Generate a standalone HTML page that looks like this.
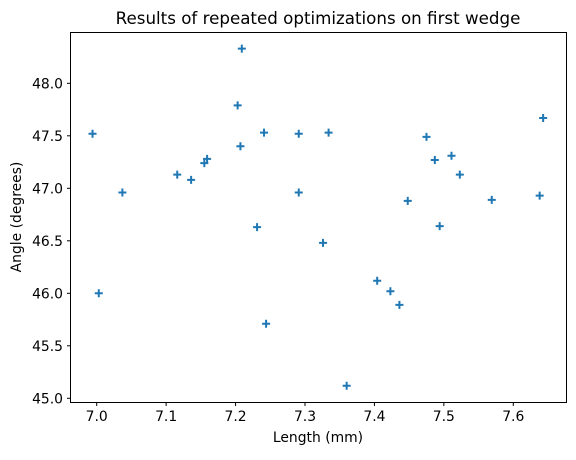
<!DOCTYPE html>
<html><head><meta charset="utf-8"><style>
body{margin:0;background:#fff;}
svg text{font-family:"DejaVu Sans","Liberation Sans",sans-serif;fill:#000;}
</style></head><body>
<svg id="chart" width="576" height="455">
<rect x="0" y="0" width="576" height="455" fill="#fff"/>
<text x="318" y="24" font-size="16.7" text-anchor="middle">Results of repeated optimizations on first wedge</text>
<g id="marks"></g>
<g id="xt"></g>
<g id="yt"></g>
<rect x="70.5" y="32.5" width="496" height="370" fill="none" stroke="#000" stroke-width="1"/>
<text x="318" y="442" font-size="13.9" text-anchor="middle">Length (mm)</text>
<text transform="translate(21,217) rotate(-90)" font-size="13.9" text-anchor="middle">Angle (degrees)</text>
</svg>
<script>
const lengths=[6.994,7.003,7.037,7.116,7.136,7.155,7.159,7.203,7.209,7.207,7.231,7.241,7.244,7.291,7.291,7.334,7.326,7.360,7.404,7.423,7.436,7.448,7.475,7.487,7.494,7.511,7.523,7.569,7.638,7.643];
const angles=[47.52,46.00,46.96,47.13,47.08,47.24,47.28,47.79,48.33,47.40,46.63,47.53,45.71,47.52,46.96,47.53,46.48,45.12,46.12,46.02,45.89,46.88,47.49,47.27,46.64,47.31,47.13,46.89,46.93,47.67];
const xTicks=[7.0,7.1,7.2,7.3,7.4,7.5,7.6];
const yTicks=[45.0,45.5,46.0,46.5,47.0,47.5,48.0];
const NS='http://www.w3.org/2000/svg';
function xs(v){return 96.7+(v-7.0)*694.3;}
function ys(v){return 398.3-(v-45.0)*105;}
function mk(t,a,p){const e=document.createElementNS(NS,t);for(const k in a)e.setAttribute(k,a[k]);p.appendChild(e);return e;}
const marks=document.getElementById('marks');
lengths.forEach((l,i)=>{
  const x=xs(l),y=ys(angles[i]);
  const g=mk('path',{d:`M${x-4},${y}H${x+4}M${x},${y-4}V${y+4}`,stroke:'#1f77b4','stroke-width':2},marks);
  
  
});
const xt=document.getElementById('xt');
xTicks.forEach(v=>{
  const x=xs(v);
  const t=mk('line',{x1:x,x2:x,y1:402.5,y2:406,stroke:'#000'},xt);
  
  
  const l=mk('text',{x:x,y:421,'font-size':13.9,'text-anchor':'middle'},xt);
  l.textContent=v.toFixed(1);
  
  
});
const yt=document.getElementById('yt');
yTicks.forEach(v=>{
  const y=ys(v);
  const t=mk('line',{x1:67,x2:70.5,y1:y,y2:y,stroke:'#000'},yt);
  
  
  const l=mk('text',{x:63,y:y+5,'font-size':13.9,'text-anchor':'end'},yt);
  l.textContent=v.toFixed(1);
  
  
});
</script>
</body></html>
